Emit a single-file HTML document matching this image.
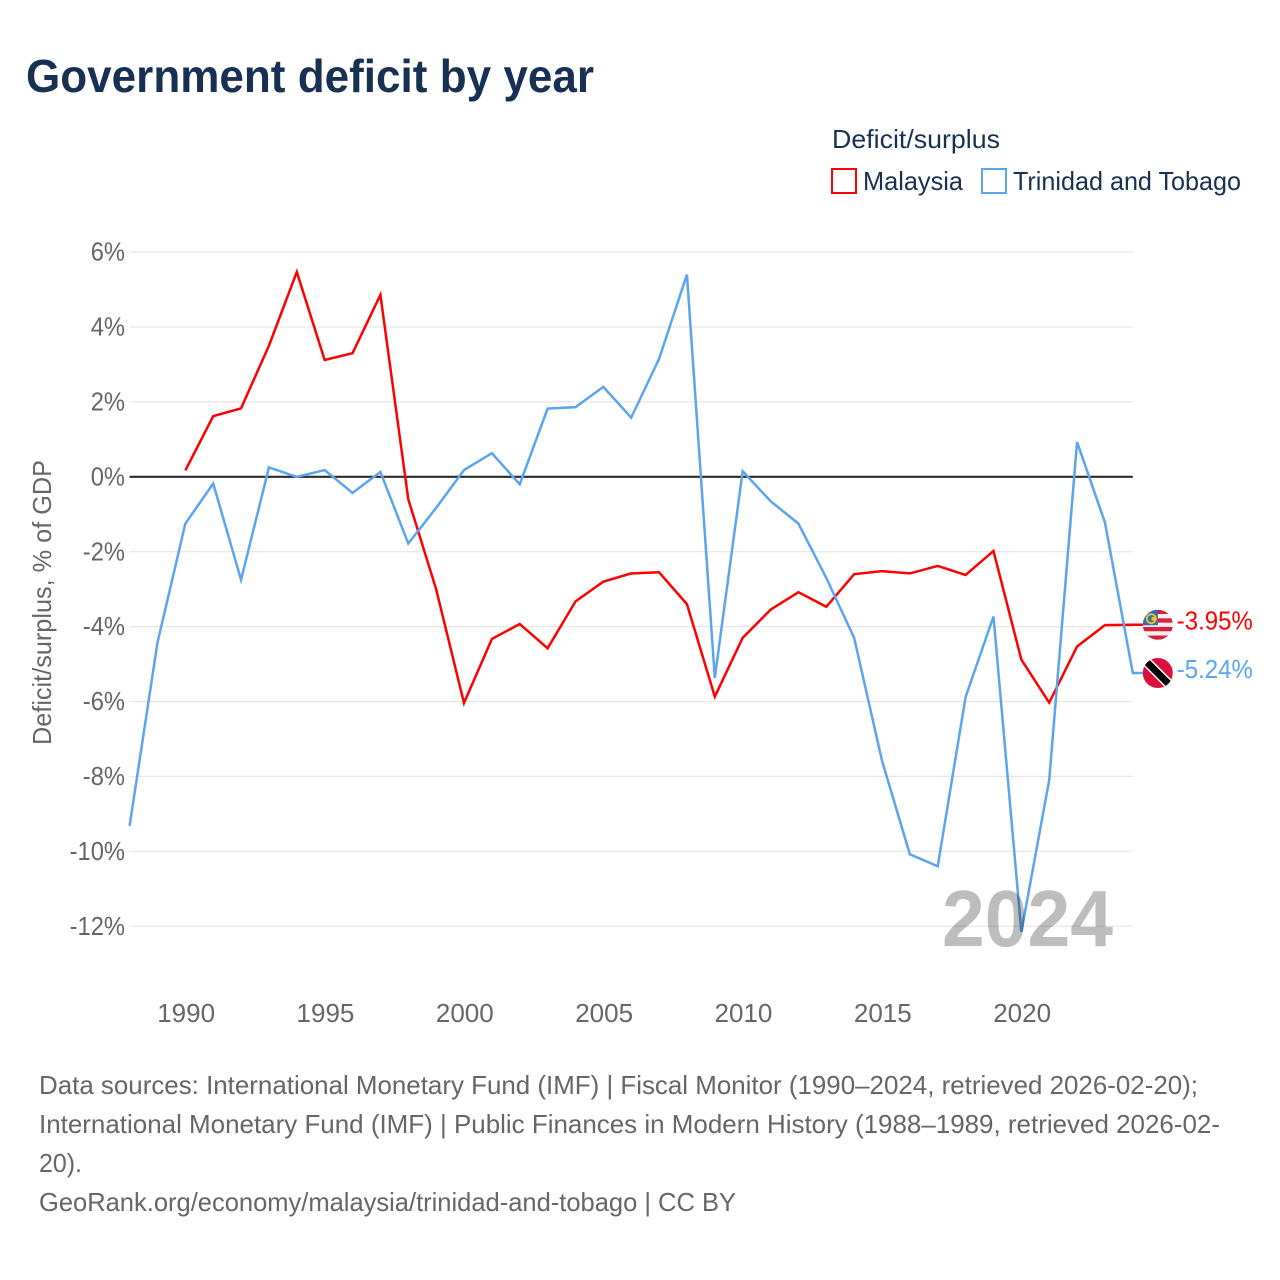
<!DOCTYPE html>
<html lang="en">
<head>
<meta charset="utf-8">
<title>Government deficit by year</title>
<style>
html,body{margin:0;padding:0;background:#fff;}
svg{display:block;font-family:"Liberation Sans",sans-serif;}
</style>
</head>
<body>
<svg id="chart" width="1280" height="1280" viewBox="0 0 1280 1280" xmlns="http://www.w3.org/2000/svg">
  <defs>
    <clipPath id="flag-clip"><circle cx="0" cy="0" r="15"></circle></clipPath>
  </defs>
  <rect width="1280" height="1280" fill="#ffffff"></rect>
  <text x="26" y="92" font-size="46" font-weight="700" fill="#183153" textLength="568" lengthAdjust="spacingAndGlyphs">Government deficit by year</text>

  <g>
    <text x="832" y="148" font-size="26" fill="#183153" textLength="168" lengthAdjust="spacingAndGlyphs">Deficit/surplus</text>
    <rect x="832" y="169" width="24" height="24" fill="#ffffff" stroke="#ff0000" stroke-width="2"></rect>
    <text x="863" y="190" font-size="26" fill="#183153" textLength="100" lengthAdjust="spacingAndGlyphs">Malaysia</text>
    <rect x="982" y="169" width="24" height="24" fill="#ffffff" stroke="#5ba4ee" stroke-width="2"></rect>
    <text x="1013" y="190" font-size="26" fill="#183153" textLength="228" lengthAdjust="spacingAndGlyphs">Trinidad and Tobago</text>
  </g>

  <g id="grid"></g>
  <g id="y-ticks"></g>
  <g id="x-ticks"></g>
  <text transform="translate(51,602.5) rotate(-90)" text-anchor="middle" font-size="26" fill="#666666" textLength="285" lengthAdjust="spacingAndGlyphs">Deficit/surplus, % of GDP</text>
  <g id="series"></g>
  <text x="1113" y="946" text-anchor="end" font-size="80" font-weight="700" fill="#bdbdbd" style="mix-blend-mode:multiply" textLength="171" lengthAdjust="spacingAndGlyphs">2024</text>
  <g id="end-labels"></g>

  <g font-size="26" fill="#666666">
    <text x="39" y="1094" textLength="1159" lengthAdjust="spacingAndGlyphs">Data sources: International Monetary Fund (IMF) | Fiscal Monitor (1990–2024, retrieved 2026-02-20);</text>
    <text x="39" y="1133" textLength="1181" lengthAdjust="spacingAndGlyphs">International Monetary Fund (IMF) | Public Finances in Modern History (1988–1989, retrieved 2026-02-</text>
    <text x="39" y="1172" textLength="43" lengthAdjust="spacingAndGlyphs">20).</text>
    <text x="39" y="1211" textLength="697" lengthAdjust="spacingAndGlyphs">GeoRank.org/economy/malaysia/trinidad-and-tobago | CC BY</text>
  </g>
</svg>
<script>
const malaysiaYears = [1990,1991,1992,1993,1994,1995,1996,1997,1998,1999,2000,2001,2002,2003,2004,2005,2006,2007,2008,2009,2010,2011,2012,2013,2014,2015,2016,2017,2018,2019,2020,2021,2022,2023,2024];
const malaysiaValues = [0.17,1.62,1.83,3.5,5.47,3.12,3.3,4.86,-0.6,-3.0,-6.04,-4.33,-3.93,-4.58,-3.33,-2.8,-2.58,-2.55,-3.4,-5.87,-4.3,-3.55,-3.08,-3.47,-2.6,-2.52,-2.58,-2.38,-2.62,-1.98,-4.88,-6.03,-4.53,-3.96,-3.95];
const trinidadYears = [1988,1989,1990,1991,1992,1993,1994,1995,1996,1997,1998,1999,2000,2001,2002,2003,2004,2005,2006,2007,2008,2009,2010,2011,2012,2013,2014,2015,2016,2017,2018,2019,2020,2021,2022,2023,2024];
const trinidadValues = [-9.32,-4.43,-1.25,-0.18,-2.75,0.25,0.0,0.18,-0.43,0.13,-1.78,-0.83,0.18,0.63,-0.2,1.82,1.86,2.4,1.58,3.15,5.4,-5.37,0.15,-0.65,-1.25,-2.7,-4.3,-7.58,-10.08,-10.4,-5.88,-3.73,-12.15,-8.1,0.93,-1.22,-5.24];
const yTickValues = [6,4,2,0,-2,-4,-6,-8,-10,-12];
const xTickValues = [1990,1995,2000,2005,2010,2015,2020];

const SVG_NS = 'http://www.w3.org/2000/svg';
const plotLeft = 129.6, plotRight = 1132.8;
function xScale(year){ return plotLeft + (year - 1988) * (plotRight - plotLeft) / 36; }
function yScale(value){ return 476.8 - value * 37.45; }
function make(tag, parent){
  const el = document.createElementNS(SVG_NS, tag);
  parent.appendChild(el);
  return el;
}
function pathFor(years, values, extraX){
  let d = '';
  years.forEach(function(year, i){
    d += (i ? 'L' : 'M') + xScale(year).toFixed(2) + ' ' + yScale(values[i]).toFixed(2);
  });
  const last = values[values.length - 1];
  d += 'L' + (xScale(years[years.length - 1]) + extraX).toFixed(2) + ' ' + yScale(last).toFixed(2);
  return d;
}

const grid = document.getElementById('grid');
const yTicks = document.getElementById('y-ticks');
yTickValues.forEach(function(v){
  const line = make('line', grid);
  
  
  line.setAttribute('x1', plotLeft);
  line.setAttribute('x2', plotRight);
  line.setAttribute('y1', yScale(v));
  line.setAttribute('y2', yScale(v));
  line.setAttribute('stroke', v === 0 ? '#2b2b2b' : '#e6e6e6');
  line.setAttribute('stroke-width', v === 0 ? 2.2 : 1.2);
  const label = make('text', yTicks);
  
  
  label.setAttribute('x', 125);
  label.setAttribute('y', yScale(v) + 8.6);
  label.setAttribute('text-anchor', 'end');
  label.setAttribute('font-size', 25.5);
  label.setAttribute('fill', '#666666');
  label.textContent = v + '%';
  label.setAttribute('textLength', (label.getComputedTextLength() * 0.93).toFixed(1));
  label.setAttribute('lengthAdjust', 'spacingAndGlyphs');
});

const xTicks = document.getElementById('x-ticks');
xTickValues.forEach(function(year){
  const label = make('text', xTicks);
  
  
  label.setAttribute('x', xScale(year) + 0.8);
  label.setAttribute('y', 1022);
  label.setAttribute('text-anchor', 'middle');
  label.setAttribute('font-size', 26);
  label.setAttribute('fill', '#666666');
  label.textContent = year;
});

const series = document.getElementById('series');
const malaysiaLine = make('path', series);


malaysiaLine.setAttribute('d', pathFor(malaysiaYears, malaysiaValues, 12));
malaysiaLine.setAttribute('fill', 'none');
malaysiaLine.setAttribute('stroke', '#ff0000');
malaysiaLine.setAttribute('stroke-width', 2.5);
const trinidadLine = make('path', series);


trinidadLine.setAttribute('d', pathFor(trinidadYears, trinidadValues, 12));
trinidadLine.setAttribute('fill', 'none');
trinidadLine.setAttribute('stroke', '#5ba4ee');
trinidadLine.setAttribute('stroke-width', 2.5);

const endLabels = document.getElementById('end-labels');
const flagX = xScale(2024) + 25;

const myY = yScale(malaysiaValues[malaysiaValues.length - 1]);
const myFlag = make('g', endLabels);


myFlag.setAttribute('transform', 'translate(' + flagX + ',' + myY + ')');
myFlag.setAttribute('clip-path', 'url(#flag-clip)');
const myBase = make('rect', myFlag);
myBase.setAttribute('x', -15);
myBase.setAttribute('y', -15);
myBase.setAttribute('width', 30);
myBase.setAttribute('height', 30);
myBase.setAttribute('fill', '#f0f0f0');
for (let i = 0; i < 4; i++) {
  const stripe = make('rect', myFlag);
  stripe.setAttribute('x', -15);
  stripe.setAttribute('y', -15 + i * 8.6);
  stripe.setAttribute('width', 30);
  stripe.setAttribute('height', 4.3);
  stripe.setAttribute('fill', '#d8203a');
}
const myCanton = make('rect', myFlag);
myCanton.setAttribute('x', -15);
myCanton.setAttribute('y', -15);
myCanton.setAttribute('width', 15);
myCanton.setAttribute('height', 15.5);
myCanton.setAttribute('fill', '#2f6fb8');
const myMoon = make('circle', myFlag);
myMoon.setAttribute('cx', -6.5);
myMoon.setAttribute('cy', -6);
myMoon.setAttribute('r', 4.5);
myMoon.setAttribute('fill', 'none');
myMoon.setAttribute('stroke', '#f5c518');
myMoon.setAttribute('stroke-width', 1.8);
const myStar = make('circle', myFlag);
myStar.setAttribute('cx', -4.5);
myStar.setAttribute('cy', -6);
myStar.setAttribute('r', 2);
myStar.setAttribute('fill', '#f5c518');

const ttY = yScale(trinidadValues[trinidadValues.length - 1]);
const ttFlag = make('g', endLabels);


ttFlag.setAttribute('transform', 'translate(' + flagX + ',' + ttY + ')');
ttFlag.setAttribute('clip-path', 'url(#flag-clip)');
const ttBase = make('rect', ttFlag);
ttBase.setAttribute('x', -15);
ttBase.setAttribute('y', -15);
ttBase.setAttribute('width', 30);
ttBase.setAttribute('height', 30);
ttBase.setAttribute('fill', '#d8103a');
const ttWhite = make('line', ttFlag);
ttWhite.setAttribute('x1', -13);
ttWhite.setAttribute('y1', -13);
ttWhite.setAttribute('x2', 13);
ttWhite.setAttribute('y2', 13);
ttWhite.setAttribute('stroke', '#ffffff');
ttWhite.setAttribute('stroke-width', 10);
const ttBlack = make('line', ttFlag);
ttBlack.setAttribute('x1', -13);
ttBlack.setAttribute('y1', -13);
ttBlack.setAttribute('x2', 13);
ttBlack.setAttribute('y2', 13);
ttBlack.setAttribute('stroke', '#000000');
ttBlack.setAttribute('stroke-width', 7);

const myLabel = make('text', endLabels);


myLabel.setAttribute('x', flagX + 19);
myLabel.setAttribute('y', myY + 5);
myLabel.setAttribute('font-size', 26);
myLabel.setAttribute('fill', '#ff0000');
myLabel.setAttribute('textLength', 76);
myLabel.setAttribute('lengthAdjust', 'spacingAndGlyphs');
myLabel.textContent = malaysiaValues[malaysiaValues.length - 1].toFixed(2) + '%';

const ttLabel = make('text', endLabels);


ttLabel.setAttribute('x', flagX + 19);
ttLabel.setAttribute('y', ttY + 5);
ttLabel.setAttribute('font-size', 26);
ttLabel.setAttribute('fill', '#5ba4ee');
ttLabel.setAttribute('textLength', 76);
ttLabel.setAttribute('lengthAdjust', 'spacingAndGlyphs');
ttLabel.textContent = trinidadValues[trinidadValues.length - 1].toFixed(2) + '%';
</script>
</body>
</html>
